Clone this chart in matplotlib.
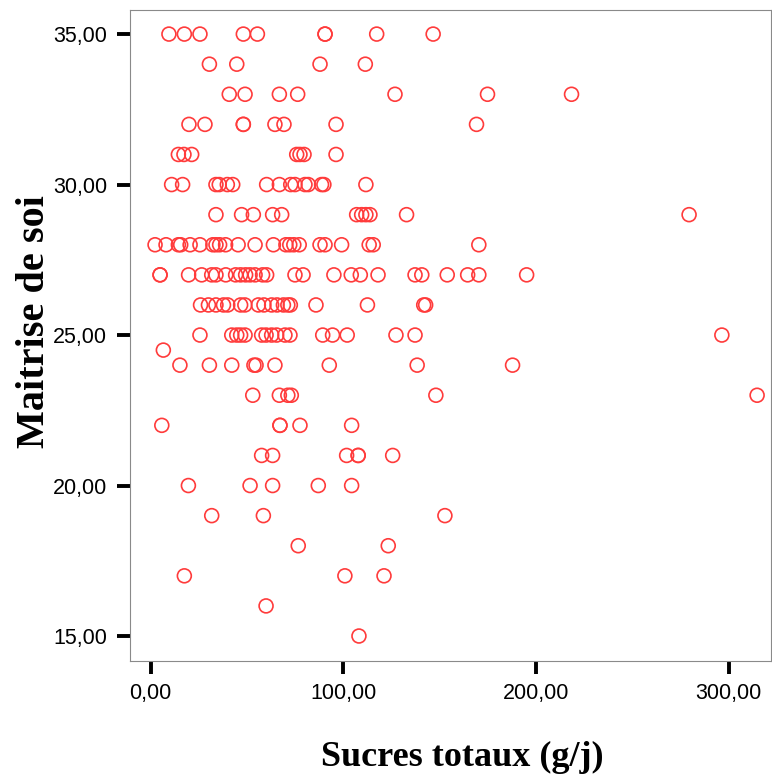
import matplotlib
matplotlib.use("Agg")
import matplotlib.pyplot as plt
import numpy as np

# Sucres totaux (g/j) values, grouped by Maitrise de soi score
x_35 = [9.5, 17.5, 25.6, 48.1, 55.4, 90.5, 90.5, 117.3, 146.6]
x_34 = [30.5, 44.7, 87.9, 111.4]
x_33 = [40.8, 49.0, 66.8, 76.3, 126.8, 174.8, 218.4]
x_32 = [19.9, 28.2, 48.1, 48.1, 64.5, 69.2, 96.2, 169.1]
x_31 = [14.4, 17.3, 21.3, 75.8, 77.5, 79.6, 96.2]
x_30 = [10.9, 16.6, 33.9, 35.6, 39.8, 42.6, 60.2, 66.8, 72.7, 74.9, 80.1, 81.8,
        88.7, 89.9, 111.7]
x_29 = [33.9, 47.2, 53.3, 63.3, 68.0, 106.9, 109.5, 111.7, 113.8, 132.8, 279.4]
x_28 = [2.3, 8.0, 14.4, 15.6, 20.5, 25.6, 32.3, 33.9, 35.8, 38.9, 45.4, 54.2,
        63.7, 70.2, 72.2, 74.3, 77.1, 87.9, 90.5, 99.1, 113.4, 115.5, 170.3]
x_27 = [4.9, 4.9, 19.7, 26.5, 31.7, 33.9, 39.0, 44.1, 46.7, 49.3, 51.6, 54.2,
        58.1, 60.2, 74.9, 79.1, 95.1, 104.1, 108.8, 118.0, 137.2, 140.7, 153.9,
        164.5, 170.3, 195.1]
x_26 = [25.9, 30.0, 33.9, 37.8, 40.0, 46.7, 48.9, 55.9, 58.8, 62.8, 65.6, 68.9,
        71.2, 72.5, 85.8, 112.5, 141.7, 142.7]
x_25 = [25.6, 42.1, 44.7, 46.7, 49.0, 57.6, 59.9, 62.8, 65.4, 69.7, 72.3, 89.3,
        94.4, 102.0, 127.3, 137.2, 296.4]
x_24_5 = [6.6]
x_24 = [15.2, 30.5, 42.1, 53.6, 54.7, 64.5, 92.7, 138.3, 187.8]
x_23 = [53.0, 66.8, 71.2, 73.0, 148.0, 314.7]
x_22 = [5.8, 67.1, 67.1, 77.5, 104.3]
x_21 = [57.6, 63.3, 101.7, 107.7, 107.7, 125.6]
x_20 = [19.6, 51.6, 63.3, 87.0, 104.3]
x_19 = [31.7, 58.5, 152.7]
x_18 = [76.6, 123.3]
x_17 = [17.5, 100.8, 121.1]
x_16 = [59.9]
x_15 = [108.1]

score_levels = [35, 34, 33, 32, 31, 30, 29, 28, 27, 26, 25, 24.5, 24, 23, 22,
                21, 20, 19, 18, 17, 16, 15]
rows = [x_35, x_34, x_33, x_32, x_31, x_30, x_29, x_28, x_27, x_26, x_25,
        x_24_5, x_24, x_23, x_22, x_21, x_20, x_19, x_18, x_17, x_16, x_15]

x_ticks = [0, 100, 200, 300]
x_tick_labels = ["0,00", "100,00", "200,00", "300,00"]
y_ticks = [15, 20, 25, 30, 35]
y_tick_labels = ["15,00", "20,00", "25,00", "30,00", "35,00"]

sucres = np.concatenate([np.array(r, float) for r in rows])
maitrise = np.concatenate([np.full(len(r), lvl, float) for r, lvl in zip(rows, score_levels)])

W, H = 772, 775
fig = plt.figure(figsize=(W / 100, H / 100), dpi=100)
ax = fig.add_axes([130 / W, 1 - 661 / H, (771 - 130) / W, (661 - 10) / H])

ax.scatter(sucres, maitrise, s=100, facecolors="none", edgecolors="#ff3b3b",
           linewidths=1.2, zorder=3)

ax.set_xlim(-10.7, 321.9)
ax.set_ylim(14.17, 35.8)

ax.set_xticks(x_ticks)
ax.set_xticklabels(x_tick_labels)
ax.set_yticks(y_ticks)
ax.set_yticklabels(y_tick_labels)

tick_font = ["Liberation Sans Narrow", "Liberation Sans", "DejaVu Sans"]
for lab in ax.get_xticklabels() + ax.get_yticklabels():
    lab.set_family(tick_font)
    lab.set_fontsize(15.5)
    lab.set_color("black")

ax.tick_params(axis="both", direction="out", length=9.5, width=2.8, color="black")
ax.tick_params(axis="x", pad=6)
ax.tick_params(axis="y", pad=7)

for sp in ax.spines.values():
    sp.set_color("#8a8a8a")
    sp.set_linewidth(0.8)

label_font = ["Liberation Serif", "DejaVu Serif"]
fig.text(462 / W, 1 - 757 / H, "Sucres totaux (g/j)", family=label_font,
         fontweight="bold", fontsize=26, ha="center", va="center")
fig.text(35 / W, 1 - 322 / H, "Maitrise de soi", family=label_font,
         fontweight="bold", fontsize=29, ha="center", va="center", rotation=90)

fig.savefig("out.png", dpi=100)
